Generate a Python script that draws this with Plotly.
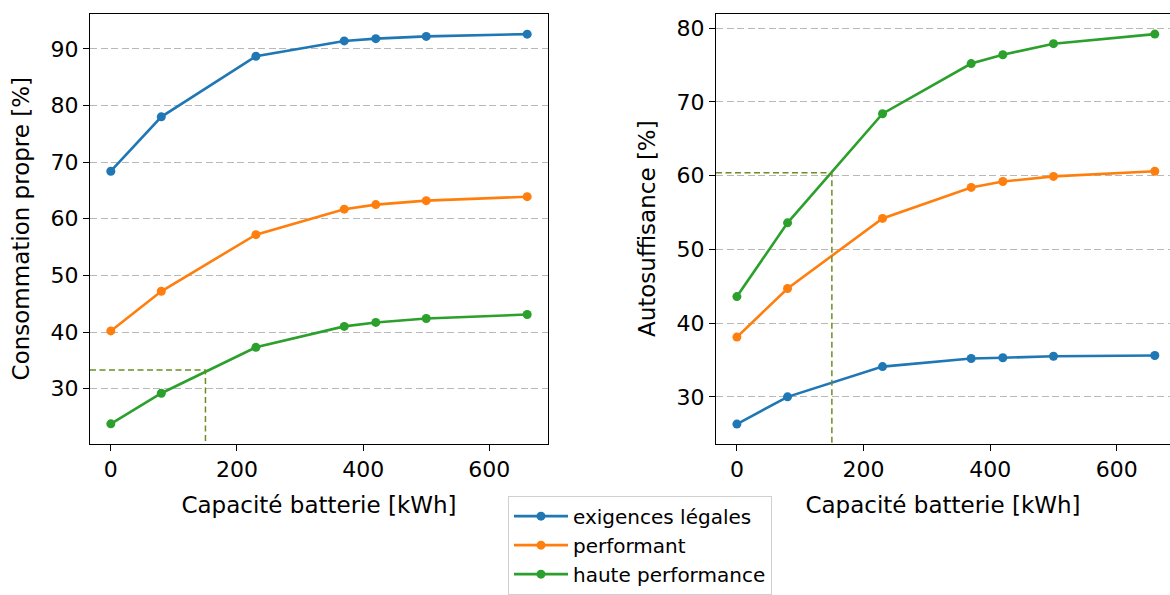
import plotly.graph_objects as go

capacity = [0, 80, 230, 370, 420, 500, 660]
series_names = ["exigences légales", "performant", "haute performance"]
colors = ["#1f77b4", "#ff7f0e", "#2ca02c"]

conso_legal = [68.4, 78.0, 88.7, 91.4, 91.8, 92.2, 92.6]
conso_perf = [40.2, 47.2, 57.2, 61.7, 62.5, 63.2, 63.9]
conso_haute = [23.8, 29.2, 37.3, 41.0, 41.7, 42.4, 43.1]

auto_legal = [26.3, 30.0, 34.1, 35.2, 35.3, 35.5, 35.6]
auto_perf = [38.1, 44.7, 54.2, 58.4, 59.2, 59.9, 60.6]
auto_haute = [43.6, 53.6, 68.4, 75.2, 76.4, 77.9, 79.2]

x_ticks = [0, 200, 400, 600]
left_yticks = [30, 40, 50, 60, 70, 80, 90]
right_yticks = [30, 40, 50, 60, 70, 80]

marker_capacity = 150
left_marker_value = 33.3
right_marker_value = 60.4

left_xrange = [-33, 693]
right_xrange = [-33, 684]
left_yrange = [20.3, 96.2]
right_yrange = [23.65, 81.96]

FONT = "DejaVu Sans"
W, H = 1170, 595


def px_x(v):
    return v / W


def px_y(v):
    return 1 - v / H


fig = go.Figure()

left_series = [conso_legal, conso_perf, conso_haute]
right_series = [auto_legal, auto_perf, auto_haute]

for name, col, ys in zip(series_names, colors, left_series):
    fig.add_trace(go.Scatter(x=capacity, y=ys, mode="lines+markers", name=name,
                             line=dict(color=col, width=2.6),
                             marker=dict(color=col, size=9),
                             xaxis="x", yaxis="y", legendgroup=name))
for name, col, ys in zip(series_names, colors, right_series):
    fig.add_trace(go.Scatter(x=capacity, y=ys, mode="lines+markers", name=name,
                             line=dict(color=col, width=2.6),
                             marker=dict(color=col, size=9),
                             xaxis="x2", yaxis="y2", legendgroup=name, showlegend=False))

dash_col = "#6b8e23"
fig.add_trace(go.Scatter(x=[left_xrange[0], marker_capacity, marker_capacity],
                         y=[left_marker_value, left_marker_value, left_yrange[0]],
                         mode="lines", line=dict(color=dash_col, width=1.5, dash="6px,3.5px"),
                         showlegend=False, hoverinfo="skip", xaxis="x", yaxis="y"))
fig.add_trace(go.Scatter(x=[right_xrange[0], marker_capacity, marker_capacity],
                         y=[right_marker_value, right_marker_value, right_yrange[0]],
                         mode="lines", line=dict(color=dash_col, width=1.5, dash="6px,3.5px"),
                         showlegend=False, hoverinfo="skip", xaxis="x2", yaxis="y2"))

tickfont = dict(family=FONT, size=22, color="#000000")
titlefont = dict(family=FONT, size=23, color="#000000")

common_x = dict(showgrid=False, zeroline=False, showline=True, linecolor="#000000",
                linewidth=1.3, ticks="outside", ticklen=6, tickwidth=1.2, tickcolor="#000000",
                tickfont=tickfont, tickvals=x_ticks)
common_y = dict(showgrid=True, gridcolor="#b8b8b8", griddash="7px,3.5px", gridwidth=1.4,
                zeroline=False, showline=True, linecolor="#000000", linewidth=1.3,
                ticks="outside", ticklen=6, tickwidth=1.2, tickcolor="#000000",
                tickfont=tickfont)

ydom = [px_y(452), px_y(14)]

fig.update_layout(
    width=W, height=H,
    margin=dict(l=0, r=0, t=0, b=0),
    paper_bgcolor="white", plot_bgcolor="white",
    font=dict(family=FONT, color="#000000"),
    xaxis=dict(domain=[px_x(90), px_x(548)], range=left_xrange, mirror=True,
               title=dict(text="Capacité batterie [kWh]", font=titlefont, standoff=15),
               anchor="y", **common_x),
    yaxis=dict(domain=ydom, range=left_yrange, mirror=True,
               tickvals=left_yticks,
               title=dict(text="Consommation propre [%]", font=titlefont, standoff=14),
               anchor="x", **common_y),
    xaxis2=dict(domain=[px_x(716), 1.0], range=right_xrange, mirror=True,
                title=dict(text="Capacité batterie [kWh]", font=titlefont, standoff=15),
                anchor="y2", **common_x),
    yaxis2=dict(domain=ydom, range=right_yrange, mirror=False,
                tickvals=right_yticks,
                title=dict(text="Autosuffisance [%]", font=titlefont, standoff=14),
                anchor="x2", **common_y),
    legend=dict(x=px_x(508), y=px_y(505), xanchor="left", yanchor="top",
                bgcolor="white", bordercolor="#d0d0d0", borderwidth=1,
                font=dict(family=FONT, size=20, color="#000000"),
                itemwidth=54, tracegroupgap=0),
    showlegend=True,
)

css_fix = ("var s=document.createElement('style');"
           "s.textContent='html,body{margin:0;padding:0;height:595px;width:1170px;overflow:hidden;}';"
           "document.head.appendChild(s);")

fig.write_html("out.html", config={"displayModeBar": False}, post_script=css_fix)
